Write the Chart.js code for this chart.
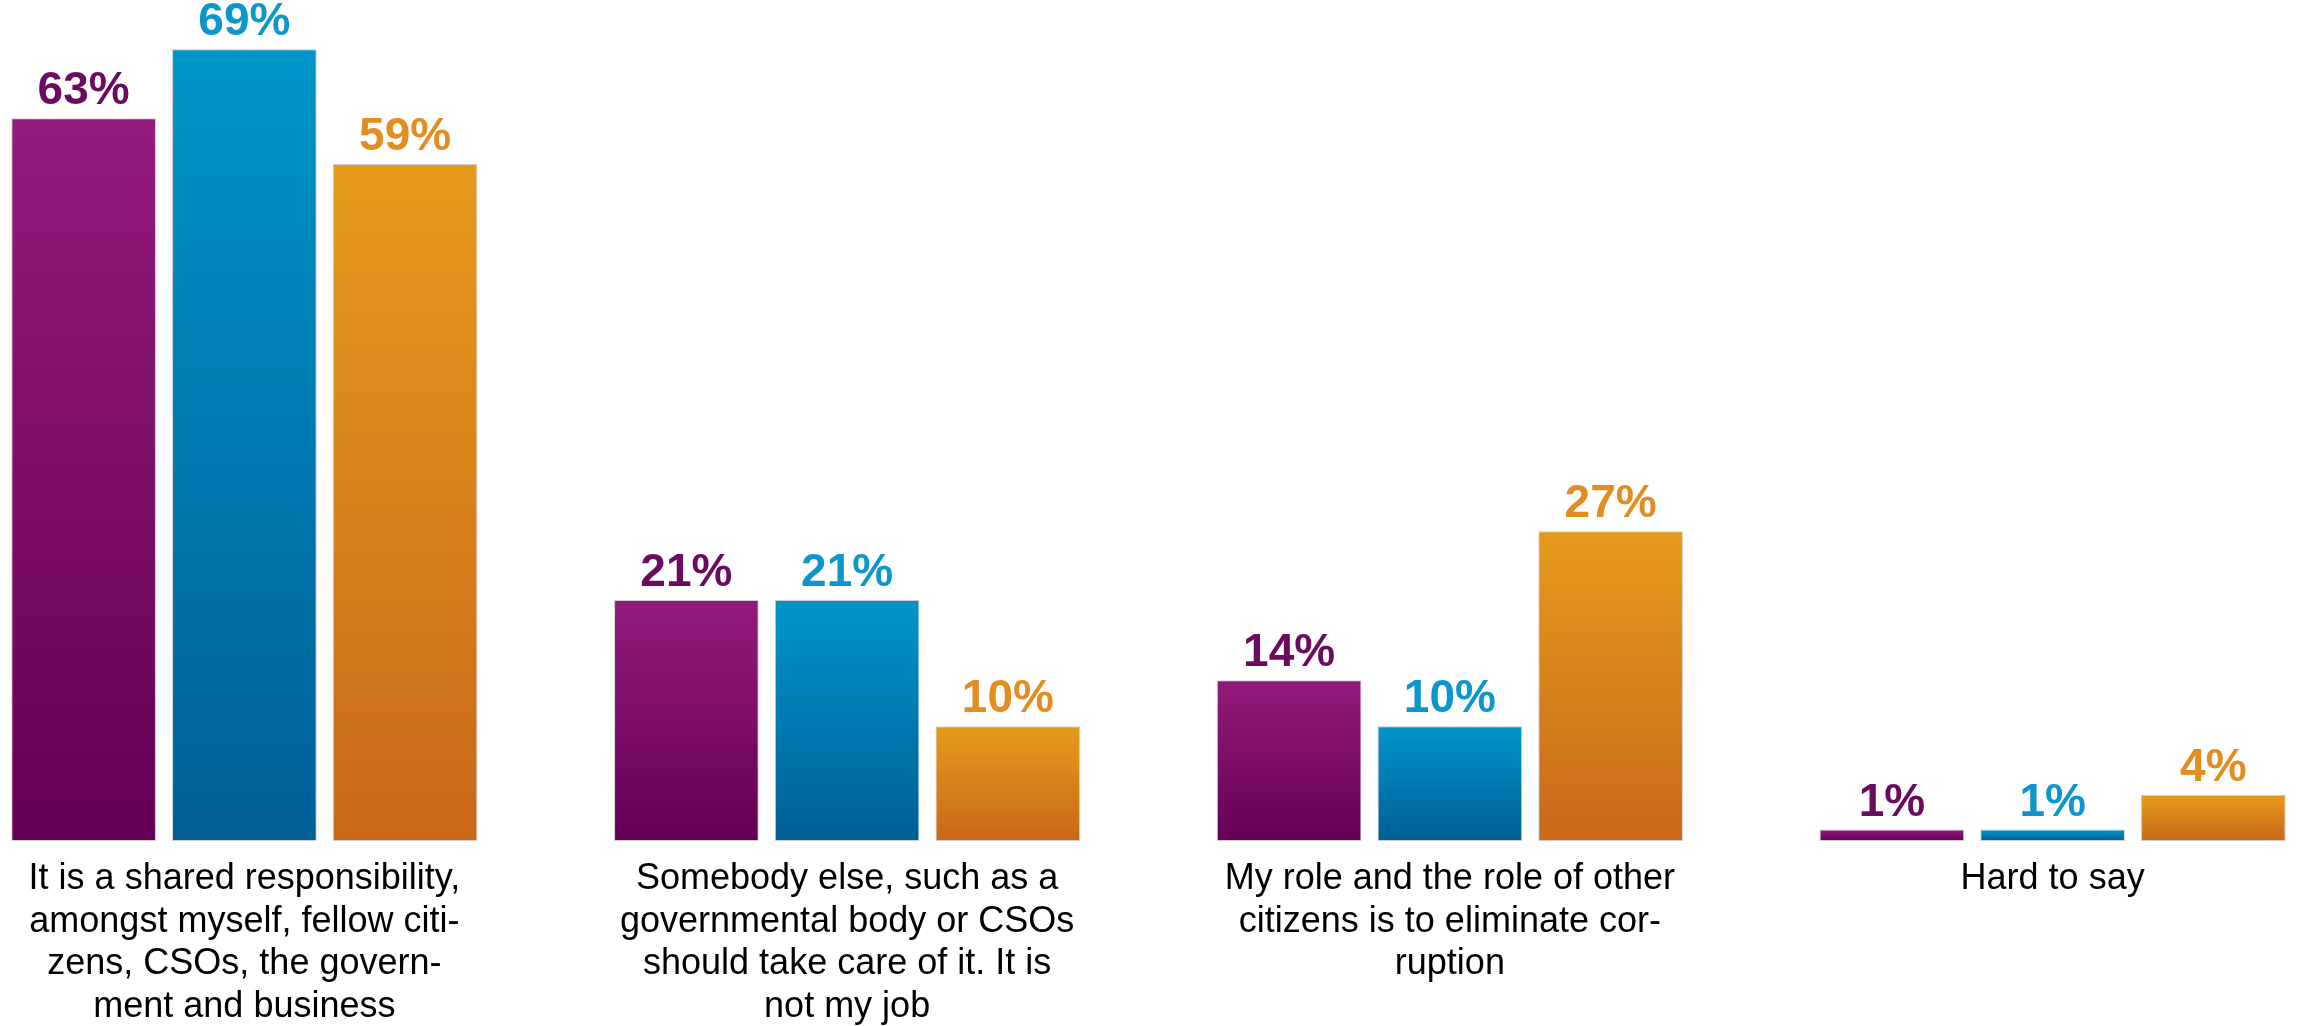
<!DOCTYPE html>
<html>
<head>
<meta charset="utf-8">
<script src="https://cdn.jsdelivr.net/npm/chart.js@4"></script>
<style>
  html, body { margin: 0; padding: 0; background: #fff; overflow: hidden; }
  #wrap { position: absolute; left: -57px; top: 0; width: 2411px; height: 1026px; }
</style>
</head>
<body>
<div id="wrap"><canvas id="chart"></canvas></div>
<script>
/* ── data ─────────────────────────────────────────────────────────────── */
const categories = [
  ['It is a shared responsibility,', 'amongst myself, fellow citi-', 'zens, CSOs, the govern-', 'ment and business'],
  ['Somebody else, such as a', 'governmental body or CSOs', 'should take care of it. It is', 'not my job'],
  ['My role and the role of other', 'citizens is to eliminate cor-', 'ruption'],
  ['Hard to say']
];
const seriesNames = ['Series 1', 'Series 2', 'Series 3'];
const purpleVals = [63, 21, 14, 1];
const blueVals   = [69, 21, 10, 1];
const orangeVals = [59, 10, 27, 4];

/* ── colours: gradient top / bottom, value label ──────────────────────── */
const gradTop    = ['#931b7b', '#0095c9', '#e59a1c'];
const gradBottom = ['#640055', '#005f95', '#c9681a'];
const labelClr   = ['#6b0b60', '#0b97cc', '#e38d21'];

const FONT = '"Liberation Sans", Arial, sans-serif';

/* per-bar vertical gradient, built from the y scale */
function barGradient(top, bottom) {
  return ctx => {
    const chart = ctx.chart;
    if (!chart.chartArea || ctx.type !== 'data') return bottom;
    const ys = chart.scales.y;
    const y0 = ys.getPixelForValue(ctx.raw);
    const y1 = ys.getPixelForValue(0);
    if (!isFinite(y0) || !isFinite(y1) || y0 === y1) return bottom;
    const g = chart.ctx.createLinearGradient(0, y0, 0, y1);
    g.addColorStop(0, top);
    g.addColorStop(1, bottom);
    return g;
  };
}

/* value labels above each bar */
const valueLabels = {
  id: 'valueLabels',
  afterDatasetsDraw(chart) {
    const c = chart.ctx;
    c.save();
    c.font = 'bold 46px ' + FONT;
    c.textAlign = 'center';
    c.textBaseline = 'alphabetic';
    chart.data.datasets.forEach((ds, i) => {
      c.fillStyle = labelClr[i];
      chart.getDatasetMeta(i).data.forEach((bar, j) => {
        c.fillText(ds.data[j] + '%', bar.x, bar.y - 14);
      });
    });
    c.restore();
  }
};

const allVals = [purpleVals, blueVals, orangeVals];

new Chart(document.getElementById('chart').getContext('2d'), {
  type: 'bar',
  data: {
    labels: categories,
    datasets: allVals.map((vals, i) => ({
      label: seriesNames[i],
      data: vals,
      backgroundColor: barGradient(gradTop[i], gradBottom[i]),
      borderColor: 'rgba(200,200,200,0.9)',
      borderWidth: 1,
      borderSkipped: false,
      categoryPercentage: 0.8,
      barPercentage: 0.9
    }))
  },
  options: {
    responsive: true,
    maintainAspectRatio: false,
    animation: false,
    layout: { padding: 0 },
    plugins: {
      legend: { display: false },
      tooltip: { enabled: false }
    },
    scales: {
      x: {
        grid: { display: false, drawTicks: false },
        border: { display: false },
        afterFit: s => { s.height = 185; },
        ticks: {
          padding: 17,
          maxRotation: 0,
          autoSkip: false,
          color: '#000',
          font: { family: FONT, size: 36, lineHeight: 1.18 }
        }
      },
      y: {
        display: false,
        min: 0,
        max: 73.3
      }
    }
  },
  plugins: [valueLabels]
});
</script>
</body>
</html>
